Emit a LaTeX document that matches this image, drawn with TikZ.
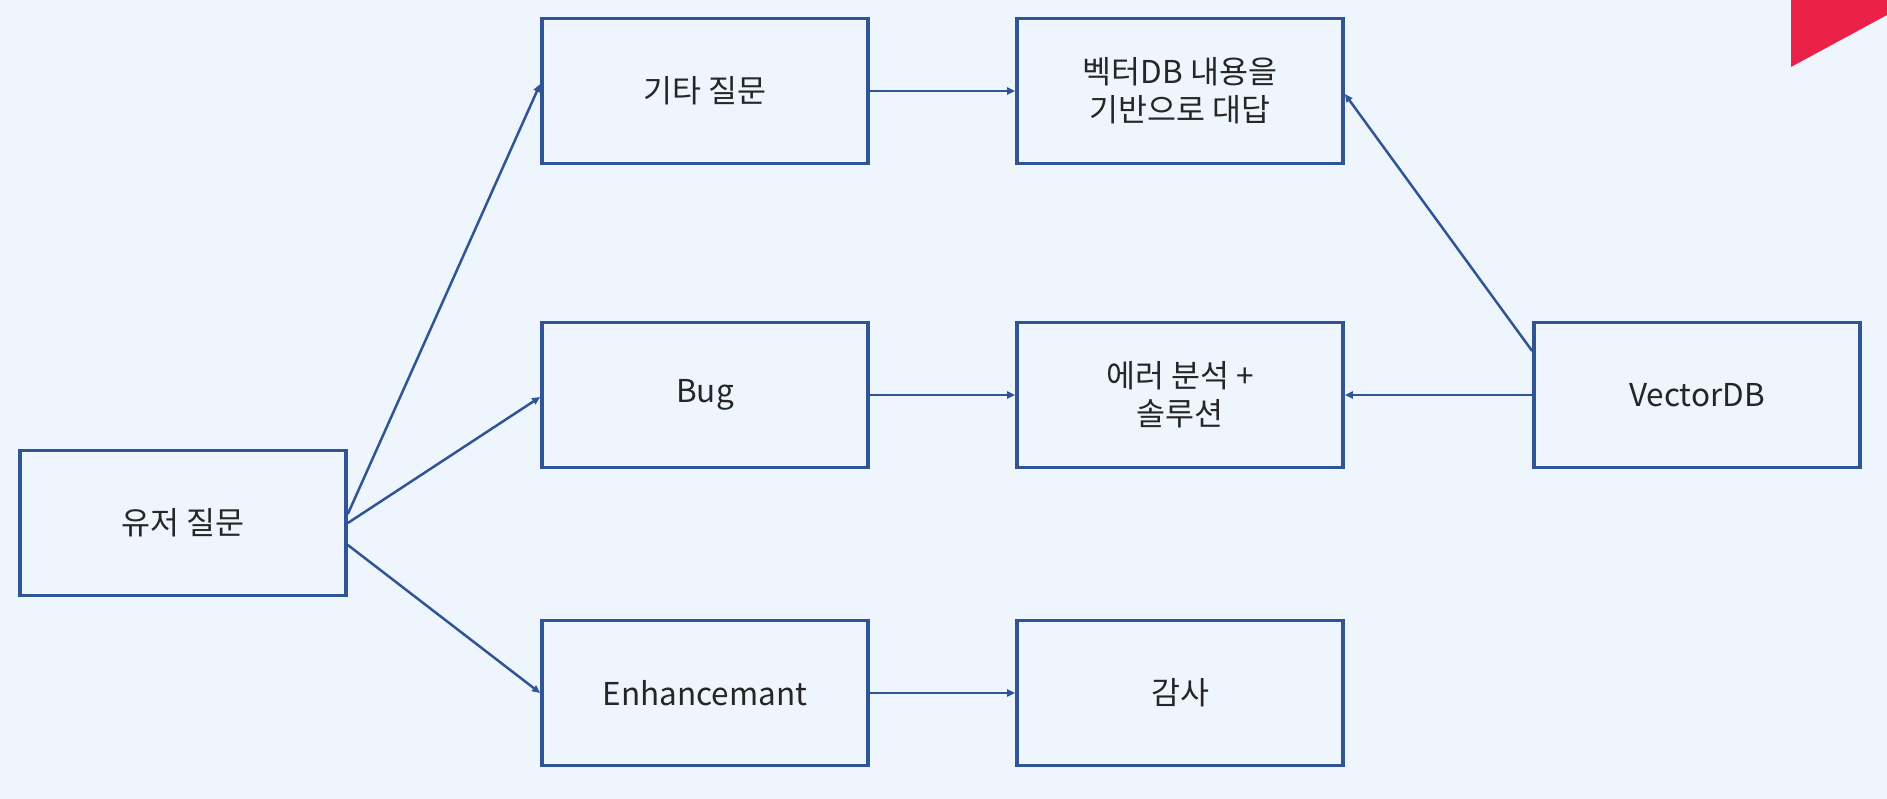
\documentclass[tikz,border=0pt]{standalone}
\usepackage{fontspec}
\setmainfont{Noto Sans CJK KR}
\usepackage{tikz}
\usetikzlibrary{positioning, arrows.meta}
\definecolor{boxblue}{HTML}{2F5597}
\definecolor{bgblue}{HTML}{EFF5FD}
\definecolor{accent}{HTML}{EA2148}
\definecolor{textgray}{HTML}{262626}
\tikzset{
>={Triangle[length=8pt,width=7pt]}, % small solid heads
node distance=475pt, % gap between the centres of two columns
box/.style={draw=boxblue, line width=3.7pt, minimum width=326pt, minimum height=145pt, align=center, text=textgray, font=\fontsize{31.5}{38}\selectfont}, % every box
link/.style={->, draw=boxblue, line width=2.5pt}, % every connector
}
\begin{document}
\begin{tikzpicture}[x=1pt, y=1pt]
            \fill[bgblue] (0,0) rectangle (1887,-799);
            \useasboundingbox (0,0) rectangle (1887,-799);
            \fill[accent] (1791,0) -- (1887,0) -- (1887,-15) -- (1791,-67) -- cycle;

            \node[box] (user) at (183,-523) {유저 질문};
            \node[box] (bug) at (705,-395) {Bug};
            \node[box, above of=bug, node distance=304pt] (etc) {기타 질문};
            \node[box, below of=bug, node distance=298pt] (enh) {Enhancemant};
            \node[box, right of=etc] (answer) {벡터DB 내용을\\기반으로 대답};
            \node[box, right of=bug] (err) {에러 분석 +\\솔루션};
            \node[box, right of=enh] (thanks) {감사};
            \node[box, right of=err, node distance=517pt] (vdb) {VectorDB};

            \draw[link] ([yshift=9pt]user.east) -- ([yshift=7pt]etc.west);
            \draw[link] (user.east) -- ([yshift=-2pt]bug.west);
            \draw[link] ([yshift=-22pt]user.east) -- (enh.west);
            \draw[link] (etc) -- (answer);
            \draw[link] (bug) -- (err);
            \draw[link] (enh) -- (thanks);
            \draw[link] ([yshift=44pt]vdb.west) -- ([yshift=-3pt]answer.east);
            \draw[link] (vdb) -- (err);
        \end{tikzpicture}
\end{document}
